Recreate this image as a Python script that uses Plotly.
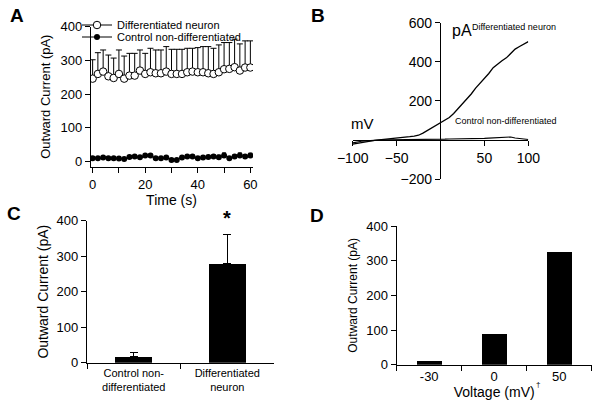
import plotly.graph_objects as go

W, H = 601, 409
FONT = "Liberation Sans, Arial, sans-serif"

# ---------------- Panel A data ----------------
time_s = [0, 2, 4, 6, 8, 10, 12, 14, 16, 18, 20, 22, 24, 26, 28, 30,
          32, 34, 36, 38, 40, 42, 44, 46, 48, 50, 52, 54, 56, 58, 60]
diff_mean = [246, 260, 267, 253, 248, 260, 246, 255, 255, 270, 260, 265, 262, 262, 267, 260,
             260, 260, 265, 267, 265, 265, 262, 260, 265, 274, 275, 280, 270, 279, 279]
diff_sem = [56, 63, 64, 63, 59, 71, 67, 66, 66, 61, 61, 71, 69, 69, 74, 73,
            73, 73, 71, 69, 73, 76, 79, 76, 81, 79, 78, 83, 79, 79, 79]
ctrl_mean = [10, 10, 12, 10, 10, 9, 8, 14, 15, 13, 18, 18, 10, 10, 12, 5,
             5, 12, 15, 15, 10, 12, 14, 15, 13, 18, 10, 15, 18, 15, 18]
ctrl_sem = [2, 2, 2, 2, 2, 2, 2, 3, 3, 3, 3, 3, 2, 2, 2, 2,
            2, 3, 4, 4, 3, 3, 4, 5, 6, 8, 3, 5, 8, 6, 7]

# ---------------- Panel B data ----------------
voltage_b = [-100, -95, -90, -85, -80, -75, -70, -65, -60, -55, -50, -45, -40, -35, -30, -25,
             -20, -15, -10, -5, 0, 5, 10, 15, 20, 25, 30, 35, 40, 45, 50, 55,
             60, 65, 70, 75, 80, 85, 90, 95, 100]
iv_diff = [-22, -18, -12, -8, -5, -2, 0, 2, 5, 7, 10, 12, 15, 17, 20, 24,
           35, 48, 60, 75, 89, 100, 115, 135, 160, 180, 205, 235, 265, 290, 310, 340,
           370, 390, 405, 420, 445, 465, 478, 490, 503]
iv_ctrl = [-15, -10, -7, -5, -3, -2, 0, 0, 1, 1, 2, 2, 3, 3, 3, 3,
           3, 4, 4, 4, 4, 4, 5, 5, 5, 6, 6, 6, 7, 7, 8, 9,
           10, 11, 12, 13, 15, 10, 8, 5, 2]

# ---------------- Panel C data ----------------
groups_c = ["Control non-<br>differentiated", "Differentiated<br>neuron"]
mean_c = [18, 280]
sem_c = [10, 80]

# ---------------- Panel D data ----------------
voltage_d = ["-30", "0", "50"]
current_d = [12, 88, 326]


def px_x(a, b):
    return [a / W, b / W]


def px_y(top, bottom):
    return [1 - bottom / H, 1 - top / H]


def ax(**kw):
    base = dict(showline=True, linecolor="black", linewidth=1.2, showgrid=False, zeroline=False,
                ticks="outside", tickcolor="black", ticklen=5, tickwidth=1.2,
                tickfont=dict(family=FONT, size=13, color="black"))
    base.update(kw)
    return base


fig = go.Figure()

# Panel A traces
fig.add_trace(go.Scatter(
    x=time_s, y=diff_mean, mode="lines+markers", name="Differentiated neuron",
    line=dict(color="black", width=1),
    marker=dict(symbol="circle", size=7.5, color="white", line=dict(color="black", width=1)),
    error_y=dict(type="data", symmetric=False, array=diff_sem, arrayminus=[0] * len(diff_sem),
                 color="black", thickness=1, width=3),
    xaxis="x", yaxis="y", showlegend=True, legend="legend"))
fig.add_trace(go.Scatter(
    x=time_s, y=ctrl_mean, mode="lines+markers", name="Control non-differentiated",
    line=dict(color="black", width=1),
    marker=dict(symbol="circle", size=6, color="black"),
    error_y=dict(type="data", symmetric=False, array=ctrl_sem, arrayminus=[0] * len(ctrl_sem),
                 color="black", thickness=1, width=2),
    xaxis="x", yaxis="y", showlegend=True, legend="legend2"))

# Panel B traces
fig.add_trace(go.Scatter(x=voltage_b, y=iv_diff, mode="lines", line=dict(color="black", width=1.3),
                         xaxis="x2", yaxis="y2", showlegend=False))
fig.add_trace(go.Scatter(x=voltage_b, y=iv_ctrl, mode="lines", line=dict(color="black", width=1.1),
                         xaxis="x2", yaxis="y2", showlegend=False))

# Panel C
fig.add_trace(go.Bar(x=groups_c, y=mean_c, width=0.4, marker=dict(color="black", line=dict(width=0)),
                     error_y=dict(type="data", symmetric=False, array=sem_c, arrayminus=[0, 0],
                                  color="black", thickness=1, width=4),
                     xaxis="x3", yaxis="y3", showlegend=False))

# Panel D
fig.add_trace(go.Bar(x=voltage_d, y=current_d, width=0.39, marker=dict(color="black", line=dict(width=0)),
                     xaxis="x4", yaxis="y4", showlegend=False))

leg_common = dict(xanchor="left", yanchor="middle", bgcolor="rgba(0,0,0,0)",
                  font=dict(family=FONT, size=11, color="black"), itemwidth=30,
                  tracegroupgap=0, borderwidth=0)

fig.update_layout(
    width=W, height=H, margin=dict(l=0, r=0, t=0, b=0, autoexpand=False),
    paper_bgcolor="white", plot_bgcolor="white",
    font=dict(family=FONT, color="black"),
    bargap=0,
    legend=dict(x=77 / W, y=1 - 25 / H, **leg_common),
    legend2=dict(x=77 / W, y=1 - 37 / H, **leg_common),
    # Panel A
    xaxis=ax(domain=px_x(90, 253), range=[-1, 61], anchor="free",
             position=1 - 167 / H,
             tickvals=[0, 10, 20, 30, 40, 50, 60], ticktext=["0", "", "20", "", "40", "", "60"],
             title=dict(text="Time (s)", font=dict(size=14, family=FONT), standoff=4)),
    yaxis=ax(domain=px_y(26.7, 166.7), range=[-15, 400], anchor="free",
             position=90 / W, tickvals=[0, 100, 200, 300, 400],
             title=dict(text="Outward Current (pA)", font=dict(size=13, family=FONT), standoff=6)),
    # Panel B
    xaxis2=ax(domain=px_x(352.7, 528.3), range=[-100, 100], anchor="free",
              position=1 - 140 / H, tickvals=[-100, -50, 50, 100],
              tickfont=dict(family=FONT, size=14, color="black")),
    yaxis2=ax(domain=px_y(22.7, 179), range=[-200, 600], anchor="free",
              position=440 / W, tickvals=[-200, 200, 400, 600],
              tickfont=dict(family=FONT, size=14, color="black")),
    # Panel C
    xaxis3=ax(domain=px_x(87, 274), anchor="y3", tickson="boundaries",
              tickfont=dict(family=FONT, size=11, color="black")),
    yaxis3=ax(domain=px_y(220.7, 362.7), range=[0, 400], anchor="x3",
              tickvals=[0, 100, 200, 300, 400],
              title=dict(text="Outward Current (pA)", font=dict(size=14, family=FONT), standoff=4)),
    # Panel D
    xaxis4=ax(domain=px_x(396.7, 591.7), anchor="y4", tickson="boundaries",
              title=dict(text="Voltage (mV)", font=dict(size=14, family=FONT), standoff=2)),
    yaxis4=ax(domain=px_y(226, 364.7), range=[0, 400], anchor="x4",
              tickvals=[0, 100, 200, 300, 400],
              title=dict(text="Outward Current (pA)", font=dict(size=12, family=FONT), standoff=6)),
)

annotations = [
    dict(text="<b>A</b>", x=17 / W, y=1 - 15 / H, size=19),
    dict(text="<b>B</b>", x=318 / W, y=1 - 15 / H, size=19),
    dict(text="<b>C</b>", x=14 / W, y=1 - 213 / H, size=19),
    dict(text="<b>D</b>", x=317 / W, y=1 - 215 / H, size=19),
    dict(text="pA", x=462 / W, y=1 - 31 / H, size=16),
    dict(text="Differentiated neuron", x=514 / W, y=1 - 27 / H, size=9),
    dict(text="mV", x=362 / W, y=1 - 123 / H, size=15),
    dict(text="Control non-differentiated", x=505 / W, y=1 - 121 / H, size=9),
    dict(text="†", x=538 / W, y=1 - 384 / H, size=8),
]
fig.update_layout(annotations=[
    dict(text=a["text"], x=a["x"], y=a["y"], xref="paper", yref="paper", showarrow=False,
         xanchor="center", yanchor="middle", font=dict(family=FONT, size=a["size"], color="black"))
    for a in annotations
] + [
    dict(text="<b>*</b>", x=groups_c[1], y=mean_c[1] + sem_c[1] + 12, xref="x3", yref="y3",
         showarrow=False, yanchor="bottom", font=dict(family=FONT, size=20, color="black"))
])

fig.write_html("out.html", config={"displayModeBar": False},
               post_script="document.body.style.margin='0px';")
